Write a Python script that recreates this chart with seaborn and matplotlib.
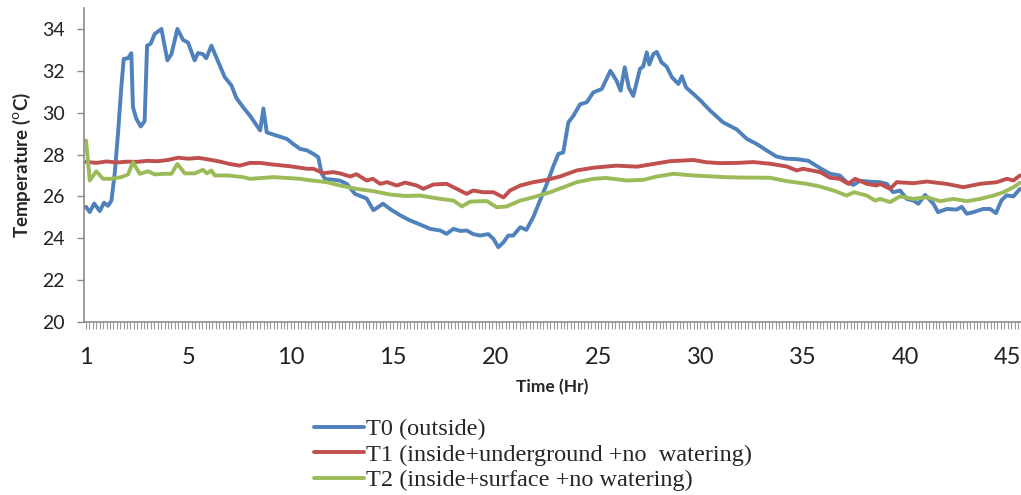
import numpy as np
import pandas as pd
import seaborn as sns
import matplotlib.pyplot as plt
from matplotlib.ticker import MultipleLocator, FixedLocator

# Readings taken off the chart (time in hours from start, temperature in degC)
t0_time = [0.0, 0.18, 0.4, 0.67, 0.88, 1.07, 1.24, 1.4, 1.56, 1.72, 1.84, 2.05, 2.21, 2.29,
           2.46, 2.67, 2.86, 2.98, 3.16, 3.35, 3.68, 3.97, 4.17, 4.46, 4.74, 4.98, 5.3, 5.47,
           5.7, 5.87, 6.12, 6.36, 6.77, 7.1, 7.34, 7.67, 8.0, 8.5, 8.66, 8.82, 9.31, 9.8,
           10.12, 10.45, 10.78, 11.1, 11.34, 11.5, 11.67, 12.06, 12.4, 12.73, 13.13, 13.7,
           14.03, 14.27, 14.5, 14.84, 15.33, 15.82, 16.3, 16.8, 17.3, 17.6, 17.94, 18.26,
           18.59, 18.9, 19.24, 19.64, 19.89, 20.13, 20.38, 20.62, 20.86, 21.2, 21.5, 21.84,
           22.17, 22.5, 22.8, 23.06, 23.3, 23.55, 23.8, 24.12, 24.45, 24.77, 25.18, 25.6,
           25.9, 26.1, 26.3, 26.5, 26.72, 27.05, 27.2, 27.38, 27.5, 27.7, 27.87, 28.1, 28.35,
           28.6, 28.92, 29.09, 29.3, 29.65, 29.98, 30.47, 31.1, 31.77, 32.26, 32.75, 33.24,
           33.72, 34.2, 34.7, 35.27, 35.84, 36.33, 36.8, 37.14, 37.47, 37.8, 38.28, 38.77,
           39.1, 39.4, 39.75, 40.07, 40.4, 40.64, 40.97, 41.37, 41.6, 42.03, 42.5, 42.76,
           43.0, 43.33, 43.8, 44.14, 44.43, 44.7, 44.95, 45.28, 45.6]
t0_temp = [25.5, 25.25, 25.66, 25.3, 25.7, 25.55, 25.8, 27.1, 29.0, 31.2, 32.57, 32.6, 32.84, 30.26,
           29.7, 29.34, 29.6, 33.2, 33.3, 33.76, 34.0, 32.5, 32.8, 34.0, 33.47, 33.35, 32.5, 32.85,
           32.8, 32.6, 33.2, 32.65, 31.7, 31.3, 30.7, 30.26, 29.86, 29.15, 30.2, 29.06, 28.9, 28.75,
           28.5, 28.27, 28.2, 28.03, 27.87, 27.1, 26.83, 26.8, 26.75, 26.6, 26.12, 25.9,
           25.34, 25.5, 25.65, 25.4, 25.1, 24.85, 24.66, 24.45, 24.37, 24.21, 24.45, 24.35,
           24.37, 24.2, 24.13, 24.2, 23.97, 23.57, 23.81, 24.13, 24.13, 24.53, 24.4, 25.02,
           25.82, 26.6, 27.4, 28.03, 28.1, 29.54, 29.86, 30.4, 30.5, 30.97, 31.13, 32.0,
           31.53, 31.05, 32.17, 31.2, 30.8, 32.1, 32.2, 32.88, 32.3, 32.8, 32.9, 32.4, 32.2,
           31.7, 31.37, 31.74, 31.2, 30.9, 30.6, 30.1, 29.54, 29.2, 28.75, 28.5, 28.19,
           27.9, 27.8, 27.78, 27.7, 27.35, 27.08, 27.0, 26.68, 26.55, 26.75, 26.7, 26.68,
           26.6, 26.2, 26.28, 25.88, 25.8, 25.65, 26.07, 25.65, 25.25, 25.4, 25.37, 25.5,
           25.17, 25.25, 25.4, 25.4, 25.2, 25.82, 26.05, 26.0, 26.36]

t1_time = [0.0, 0.5, 1.0, 1.5, 2.0, 2.5, 3.0, 3.5, 4.0, 4.5, 5.0, 5.5, 6.0, 6.5, 7.0, 7.5, 8.0,
           8.5, 9.15, 9.96, 10.78, 11.1, 11.59, 12.07, 12.4, 12.9, 13.2, 13.7, 14.0, 14.36,
           14.7, 15.17, 15.58, 16.15, 16.47, 16.96, 17.61, 18.26, 18.59, 18.9, 19.4, 19.89,
           20.38, 20.7, 21.2, 21.84, 22.5, 23.14, 23.96, 24.77, 25.9, 26.9, 27.7, 28.5, 29.65,
           30.3, 30.96, 31.8, 32.58, 33.4, 34.21, 34.7, 35.0, 35.84, 36.33, 36.8, 37.22, 37.55,
           38.12, 38.6, 38.77, 39.26, 39.58, 40.4, 41.05, 42.0, 42.84, 43.65, 44.47, 44.96,
           45.28, 45.6]
t1_temp = [27.65, 27.6, 27.67, 27.62, 27.66, 27.65, 27.7, 27.68, 27.74, 27.85, 27.8, 27.84, 27.76,
           27.67, 27.55, 27.47, 27.6, 27.6, 27.52, 27.44, 27.32, 27.32, 27.11, 27.16, 27.1, 26.95,
           27.06, 26.76, 26.84, 26.6, 26.68, 26.52, 26.66, 26.52, 26.36, 26.57, 26.6, 26.28,
           26.12, 26.28, 26.2, 26.2, 25.95, 26.28, 26.52, 26.68, 26.79, 26.95, 27.24, 27.37,
           27.47, 27.42, 27.55, 27.68, 27.74, 27.63, 27.59, 27.6, 27.64, 27.56, 27.43, 27.24,
           27.32, 27.16, 26.89, 26.84, 26.6, 26.84, 26.6, 26.52, 26.6, 26.36, 26.68, 26.63,
           26.71, 26.6, 26.44, 26.6, 26.68, 26.84, 26.76, 27.0]

t2_time = [0.0, 0.18, 0.5, 0.83, 1.24, 1.72, 2.05, 2.29, 2.62, 3.03, 3.35, 3.84, 4.17, 4.46,
           4.82, 5.3, 5.71, 5.9, 6.12, 6.28, 6.93, 7.67, 8.0, 9.15, 10.45, 10.78, 11.75, 12.4,
           13.2, 14.03, 14.84, 15.58, 16.3, 17.3, 17.94, 18.35, 18.75, 19.56, 20.05, 20.54,
           21.2, 21.84, 22.66, 23.4, 23.96, 24.77, 25.4, 26.4, 27.2, 27.87, 28.68, 29.65,
           31.2, 32.0, 33.4, 34.2, 35.19, 35.84, 36.5, 37.14, 37.5, 38.12, 38.53, 38.77,
           39.26, 39.75, 40.4, 41.05, 41.7, 42.35, 43.0, 43.65, 44.3, 44.8, 45.28, 45.6]
t2_temp = [28.67, 26.76, 27.2, 26.84, 26.84, 26.92, 27.05, 27.63, 27.08, 27.2, 27.05, 27.08,
           27.08, 27.55, 27.1, 27.1, 27.27, 27.1, 27.24, 27.0, 27.0, 26.92, 26.84, 26.92, 26.84,
           26.79, 26.68, 26.52, 26.36, 26.25, 26.09, 26.02, 26.04, 25.88, 25.8, 25.52, 25.75,
           25.78, 25.48, 25.52, 25.8, 25.96, 26.2, 26.47, 26.68, 26.84, 26.88, 26.76, 26.79,
           26.95, 27.08, 27.0, 26.92, 26.9, 26.89, 26.73, 26.6, 26.47, 26.28, 26.04, 26.2,
           26.04, 25.8, 25.88, 25.73, 26.0, 25.88, 25.96, 25.77, 25.88, 25.77, 25.88, 26.04,
           26.2, 26.44, 26.65]

series_names = ["T0 (outside)",
                "T1 (inside+underground +no  watering)",
                "T2 (inside+surface +no watering)"]
line_colors = ["#4f81bd", "#c0504d", "#9bbb59"]

tick_pos = [0, 5, 10, 15, 20, 25, 30, 35, 40, 45]
tick_labels = ["1", "5", "10", "15", "20", "25", "30", "35", "40", "45"]
y_ticks = [20, 22, 24, 26, 28, 30, 32, 34]

# long format for seaborn
df = pd.concat([
    pd.DataFrame({"time": t0_time, "temp": t0_temp, "series": series_names[0]}),
    pd.DataFrame({"time": t1_time, "temp": t1_temp, "series": series_names[1]}),
    pd.DataFrame({"time": t2_time, "temp": t2_temp, "series": series_names[2]}),
])

sns.set_style("white")
plt.rcParams["font.family"] = ["Lato", "DejaVu Sans"]

fig = plt.figure(figsize=(10.21, 4.95), dpi=100)
ax = fig.add_axes([84 / 1021, 173 / 495, 1 - 84 / 1021, 314 / 495])

sns.lineplot(data=df, x="time", y="temp", hue="series", hue_order=series_names,
             palette=line_colors, linewidth=2.8, estimator=None, sort=True, ax=ax)

ax.set_xlim(-0.1, 45.65)
ax.set_ylim(20, 35)
ax.set_yticks(y_ticks)
ax.xaxis.set_major_locator(FixedLocator(tick_pos))
ax.set_xticklabels(tick_labels)
ax.xaxis.set_minor_locator(MultipleLocator(1 / 6))

for side in ["top", "right"]:
    ax.spines[side].set_visible(False)
for side in ["left", "bottom"]:
    ax.spines[side].set_color("#8c8c8c")
    ax.spines[side].set_linewidth(1.2)

ax.tick_params(axis="x", which="both", direction="out", length=5, width=0.8,
               color="#9a9a9a", pad=13, labelsize=17, labelcolor="#222222")
ax.tick_params(axis="y", direction="out", length=5, width=1.0, color="#8c8c8c",
               pad=9, labelsize=14, labelcolor="#222222")
ax.tick_params(left=True, bottom=True)
ax.tick_params(axis="x", which="minor", bottom=True)

ax.set_xlabel("Time (Hr)", fontsize=12.5, fontweight="bold", labelpad=8)
ax.set_ylabel(r"Temperature ($^\mathrm{o}$C)", fontsize=13.5, fontweight="bold", labelpad=6)

sns.move_legend(ax, "upper left", bbox_to_anchor=(0.308, 0.155),
                bbox_transform=fig.transFigure, frameon=False, title=None,
                prop={"family": ["Liberation Serif"], "size": 17.5},
                handlelength=2.05, handletextpad=0.05, labelspacing=0.14,
                borderpad=0, borderaxespad=0)

fig.savefig("out.png", dpi=100)
